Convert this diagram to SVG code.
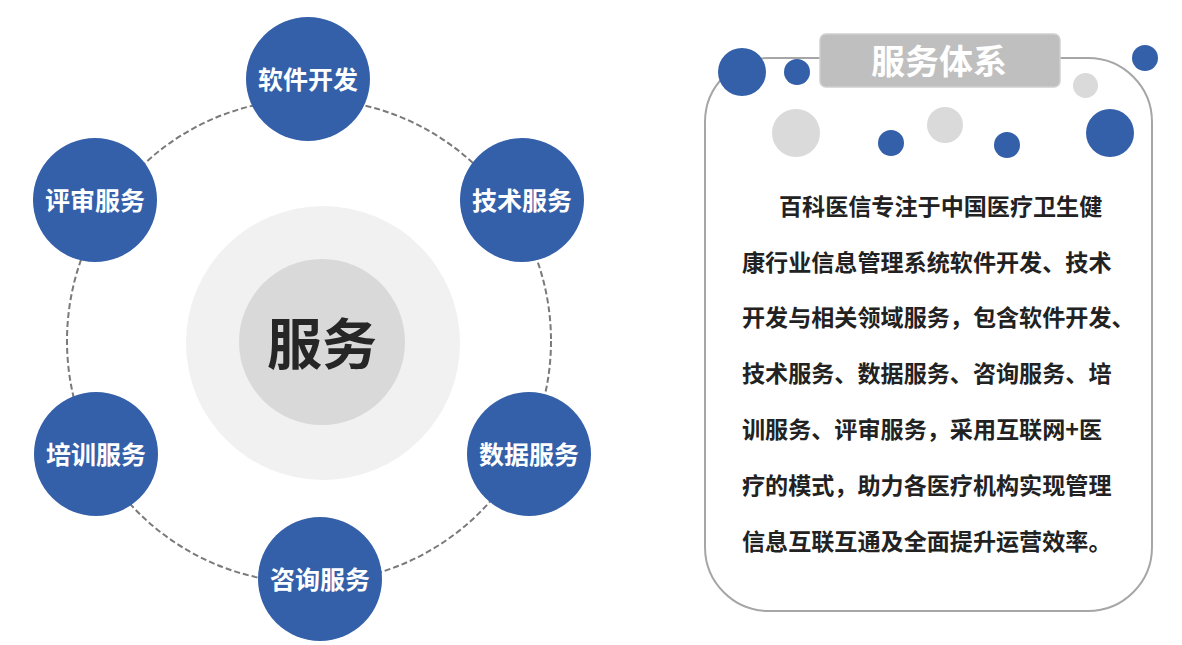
<svg xmlns="http://www.w3.org/2000/svg" width="1182" height="645" viewBox="0 0 1182 645">
<style>
.node circle{fill:#345FA9}
.node text{fill:#fff;font-family:"Noto Sans CJK SC","Noto Sans CJK TC",sans-serif;font-weight:700;font-size:25px;text-anchor:middle;dominant-baseline:central}
.para{fill:#222;font-family:"Noto Sans CJK SC",sans-serif;font-weight:700;font-size:23.1px;dominant-baseline:central}
.blue{fill:#345FA9}
.grey{fill:#dadada}
</style>
<rect width="1182" height="645" fill="#fff"/>
<g id="connectors">
<circle cx="309" cy="341" r="242" fill="none" stroke="#7a7a7a" stroke-width="2" stroke-dasharray="6 3"/>
</g>
<g id="center">
<circle cx="323" cy="343" r="137" fill="#f1f1f1"/>
<circle cx="322" cy="342" r="83" fill="#d9d9d9"/>
<text x="322" y="340" font-family="Noto Sans CJK SC,sans-serif" font-weight="700" font-size="55" fill="#262626" text-anchor="middle" dominant-baseline="central">服务</text>
</g>
<g id="n1" class="node"><circle cx="308" cy="79" r="62"/><text x="308" y="78">软件开发</text></g>
<g id="n2" class="node"><circle cx="522" cy="200" r="62"/><text x="522" y="199">技术服务</text></g>
<g id="n3" class="node"><circle cx="529" cy="454" r="62"/><text x="529" y="453">数据服务</text></g>
<g id="n4" class="node"><circle cx="320" cy="579" r="62"/><text x="320" y="578">咨询服务</text></g>
<g id="n5" class="node"><circle cx="96" cy="454" r="62"/><text x="96" y="453">培训服务</text></g>
<g id="n6" class="node"><circle cx="95" cy="200" r="62"/><text x="95" y="199">评审服务</text></g>
<g id="panel">
<rect x="705" y="58" width="447" height="553" rx="64" ry="64" fill="#fff" stroke="#a6a6a6" stroke-width="2"/>
<rect x="820" y="34" width="240" height="53" rx="6" fill="#bfbfbf" stroke="#d0d0d0" stroke-width="1.5"/>
<text x="939" y="59" font-family="Noto Sans CJK SC,sans-serif" font-weight="700" font-size="34" fill="#fff" text-anchor="middle" dominant-baseline="central">服务体系</text>
<circle class="blue" cx="742" cy="72" r="24"/>
<circle class="blue" cx="797" cy="72" r="13"/>
<circle class="blue" cx="1145" cy="58" r="13"/>
<circle class="grey" cx="1085.5" cy="85.5" r="12.5"/>
<circle class="grey" cx="796" cy="133" r="24"/>
<circle class="grey" cx="945" cy="125" r="18"/>
<circle class="blue" cx="891" cy="143" r="13"/>
<circle class="blue" cx="1007" cy="145" r="13"/>
<circle class="blue" cx="1110" cy="133" r="24"/>
<text class="para" x="779" y="205">百科医信专注于中国医疗卫生健</text>
<text class="para" x="742" y="261">康行业信息管理系统软件开发、技术</text>
<text class="para" x="742" y="316">开发与相关领域服务，包含软件开发、</text>
<text class="para" x="742" y="372">技术服务、数据服务、咨询服务、培</text>
<text class="para" x="742" y="428">训服务、评审服务，采用互联网+医</text>
<text class="para" x="742" y="484">疗的模式，助力各医疗机构实现管理</text>
<text class="para" x="742" y="540">信息互联互通及全面提升运营效率。</text>
</g>
</svg>
